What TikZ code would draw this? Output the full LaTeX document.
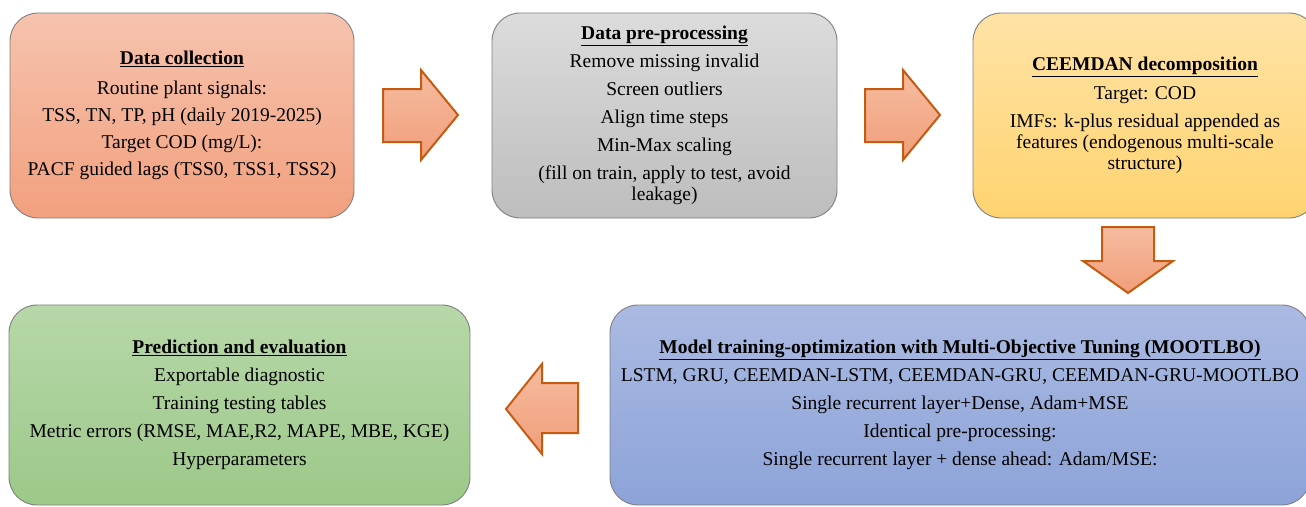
\documentclass[tikz,border=0pt]{standalone}
\usepackage{fontspec}
\setmainfont{Liberation Serif}
\definecolor{salmonTop}{HTML}{F6C3AE}
\definecolor{salmonBot}{HTML}{F2A07E}
\definecolor{grayTop}{HTML}{DCDCDC}
\definecolor{grayBot}{HTML}{BDBDBD}
\definecolor{yelTop}{HTML}{FFE3A6}
\definecolor{yelBot}{HTML}{FFD370}
\definecolor{grnTop}{HTML}{B7D8A9}
\definecolor{grnBot}{HTML}{9CC889}
\definecolor{bluTop}{HTML}{AABAE2}
\definecolor{bluBot}{HTML}{8DA3D8}
\definecolor{arrTop}{HTML}{F6BCA0}
\definecolor{arrBot}{HTML}{F09E7A}
\definecolor{arrLine}{HTML}{C55A11}
\definecolor{boxLine}{HTML}{7F7F7F}
\tikzset{
  box/.style={rounded corners=28pt, draw=boxLine, line width=0.9pt, align=center,
    inner sep=4pt, font=\fontsize{19.5}{21}\selectfont},
  blockarrow/.style={draw=arrLine, line width=2pt, line join=miter,
    top color=arrTop, bottom color=arrBot},
}
\newcommand{\ttl}[1]{\underline{\textbf{#1}}}
\begin{document}
\begin{tikzpicture}[x=1pt,y=-1pt]
\useasboundingbox (0,0) rectangle (1306,506);
\clip (0,0) rectangle (1306,506);
% boxes
\node[box, top color=salmonTop, bottom color=salmonBot, minimum width=344pt, minimum height=205pt]
  (collect) at (182,115.5)
  {\ttl{Data collection}\\[9pt]
   Routine plant signals:\\[6pt]
   TSS, TN, TP, pH (daily 2019-2025)\\[6pt]
   Target COD (mg/L):\\[6pt]
   PACF guided lags (TSS0, TSS1, TSS2)};
\node[box, top color=grayTop, bottom color=grayBot, minimum width=345pt, minimum height=205pt]
  (prep) at (664.5,115.5)
  {\ttl{Data pre-processing}\\[7pt]
   Remove missing invalid\\[7pt]
   Screen outliers\\[7pt]
   Align time steps\\[7pt]
   Min-Max scaling\\[7pt]
   (fill on train, apply to test, avoid\\
   leakage)};
\node[box, top color=yelTop, bottom color=yelBot, minimum width=344pt, minimum height=205pt]
  (ceem) at (1145,115.5)
  {\ttl{CEEMDAN decomposition}\\[8pt]
   Target: COD\\[7pt]
   IMFs: k-plus residual appended as\\
   features (endogenous multi-scale\\
   structure)};
\node[box, top color=grnTop, bottom color=grnBot, minimum width=461pt, minimum height=200pt]
  (pred) at (239.5,405)
  {\ttl{Prediction and evaluation}\\[7pt]
   Exportable diagnostic\\[7pt]
   Training testing tables\\[7pt]
   Metric errors (RMSE, MAE,R2, MAPE, MBE, KGE)\\[7pt]
   Hyperparameters};
\node[box, top color=bluTop, bottom color=bluBot, minimum width=700pt, minimum height=200pt]
  (model) at (960,405)
  {\ttl{Model training-optimization with Multi-Objective Tuning (MOOTLBO)}\\[7pt]
   LSTM, GRU, CEEMDAN-LSTM, CEEMDAN-GRU, CEEMDAN-GRU-MOOTLBO\\[7pt]
   Single recurrent layer+Dense, Adam+MSE\\[7pt]
   Identical pre-processing:\\[7pt]
   Single recurrent layer + dense ahead: Adam/MSE:};
% block arrows
\draw[blockarrow] (383,89) -- (421,89) -- (421,70) -- (458,115) -- (421,160) -- (421,142) -- (383,142) -- cycle;
\draw[blockarrow] (865,89) -- (903,89) -- (903,70) -- (940,115) -- (903,160) -- (903,142) -- (865,142) -- cycle;
\draw[blockarrow] (1102,227) -- (1154,227) -- (1154,261) -- (1173,261) -- (1128,293) -- (1083,261) -- (1102,261) -- cycle;
\draw[blockarrow] (578,383) -- (542,383) -- (542,364) -- (506,409) -- (542,454) -- (542,433) -- (578,433) -- cycle;
\end{tikzpicture}
\end{document}
